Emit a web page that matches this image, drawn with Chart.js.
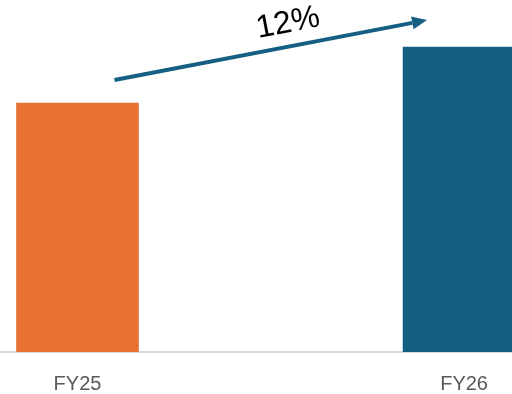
<!DOCTYPE html>
<html>
<head>
<meta charset="utf-8">
<script src="https://cdn.jsdelivr.net/npm/chart.js@4/dist/chart.umd.min.js"></script>
<style>
  html, body { margin: 0; padding: 0; background: #fff; }
  #wrap { width: 512px; height: 394px; position: relative; }
</style>
</head>
<body>
<div id="wrap"><canvas id="growthChart"></canvas></div>
<script>
const categories = ['FY25', 'FY26'];
const values = [100, 122.5];
const barColors = ['#E97132', '#156082'];
const growthLabel = '12%';

// growth arrow drawn over the bars, anchored to the bar tops
const growthArrow = {
  id: 'growthArrow',
  afterDatasetsDraw(chart) {
    const bars = chart.getDatasetMeta(0).data;
    if (bars.length < 2) return;
    const a = bars[0], b = bars[1];
    const x0 = a.x + a.width / 2 - 24, y0 = a.y - 23;
    const x1 = b.x - b.width / 2 + 24, y1 = b.y - 27;
    const ang = Math.atan2(y1 - y0, x1 - x0);
    const ctx = chart.ctx;
    ctx.save();
    ctx.strokeStyle = '#156082';
    ctx.fillStyle = '#156082';
    ctx.lineWidth = 4;
    const headLen = 15, headW = 6.5;
    const bx = x1 - headLen * Math.cos(ang), by = y1 - headLen * Math.sin(ang);
    ctx.beginPath();
    ctx.moveTo(x0, y0);
    ctx.lineTo(bx, by);
    ctx.stroke();
    ctx.beginPath();
    ctx.moveTo(x1, y1);
    ctx.lineTo(bx + headW * Math.sin(ang), by - headW * Math.cos(ang));
    ctx.lineTo(bx - headW * Math.sin(ang), by + headW * Math.cos(ang));
    ctx.closePath();
    ctx.fill();

    ctx.translate((x0 + x1) / 2, (y0 + y1) / 2);
    ctx.rotate(ang);
    ctx.fillStyle = '#000';
    ctx.font = '32px "Liberation Sans", Arial, sans-serif';
    ctx.textAlign = 'center';
    ctx.textBaseline = 'middle';
    ctx.fillText(growthLabel, 22, -23);
    ctx.restore();
  }
};

new Chart(document.getElementById('growthChart').getContext('2d'), {
  type: 'bar',
  data: {
    datasets: [{
      data: values.map((v, i) => ({ x: i, y: v })),
      backgroundColor: barColors,
      barThickness: 122,
      borderWidth: 0
    }]
  },
  options: {
    responsive: true,
    maintainAspectRatio: false,
    animation: false,
    layout: { padding: 0 },
    plugins: { legend: { display: false }, tooltip: { enabled: false } },
    scales: {
      x: {
        type: 'linear',
        offset: false,
        min: -0.2005,
        max: 1.124,
        grid: { display: false, drawTicks: false, offset: false },
        border: { display: true, color: '#d9d9d9', width: 2 },
        afterBuildTicks: s => { s.ticks = categories.map((c, i) => ({ value: i })); },
        afterFit: s => { s.height = 42; },
        ticks: {
          padding: 20,
          color: '#595959',
          font: { family: '"Liberation Sans", Arial, sans-serif', size: 20 },
          callback: v => categories[v]
        }
      },
      y: {
        display: false,
        min: 0,
        max: 141.4
      }
    }
  },
  plugins: [growthArrow]
});
</script>
</body>
</html>
